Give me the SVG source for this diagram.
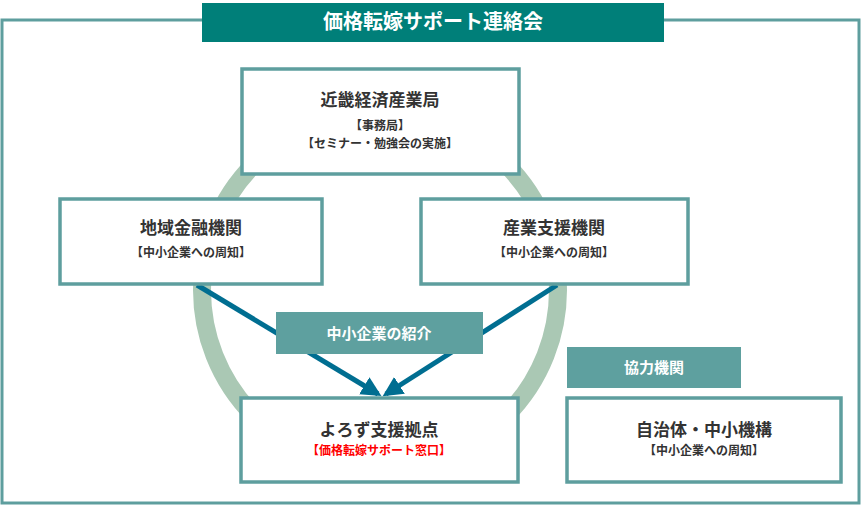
<svg xmlns="http://www.w3.org/2000/svg" width="862" height="505" viewBox="0 0 862 505">
<style>
text{font-family:"Noto Sans CJK JP","Noto Sans CJK SC",sans-serif;text-anchor:middle;font-weight:bold}
.box{fill:#fff;stroke:#5e9e9e;stroke-width:3.5}
.lab{fill:#5ea09f}
.t{font-size:17px;fill:#333}
.s{font-size:12px;fill:#333}
.w{font-size:15px;fill:#fff}
</style>
<defs><marker id="ah" viewBox="0 0 10 10" refX="8" refY="5" markerWidth="4" markerHeight="4" orient="auto"><path d="M0,0L10,5L0,10z" fill="#006e91"/></marker></defs>
<rect x="2" y="20" width="857" height="483" fill="#fff" stroke="#5e9e9e" stroke-width="3"/>
<g id="title"><rect x="202" y="3" width="462" height="39" fill="#007f79"/><text x="433" y="29" font-size="20" fill="#fff">価格転嫁サポート連絡会</text></g>
<circle cx="380" cy="290" r="178" fill="none" stroke="#aac8b4" stroke-width="18"/>
<g id="connectors" stroke="#006e91" stroke-width="5" marker-end="url(#ah)">
<line x1="197" y1="285" x2="378" y2="394"/>
<line x1="557" y1="285" x2="386" y2="394"/>
</g>
<g id="n1"><rect class="box" x="242" y="69" width="277" height="105"/><text class="t" x="380" y="106">近畿経済産業局</text><text class="s" x="380" y="130">【事務局】</text><text class="s" x="380" y="148">【セミナー・勉強会の実施】</text></g>
<g id="n2"><rect class="box" x="60" y="199" width="262" height="85"/><text class="t" x="191" y="234">地域金融機関</text><text class="s" x="191" y="257">【中小企業への周知】</text></g>
<g id="n3"><rect class="box" x="421" y="199" width="267" height="85"/><text class="t" x="554" y="234">産業支援機関</text><text class="s" x="554" y="257">【中小企業への周知】</text></g>
<g id="n4"><rect class="lab" x="276" y="312" width="207" height="42"/><text class="w" x="379" y="339">中小企業の紹介</text></g>
<g id="n5"><rect class="lab" x="567" y="347" width="174" height="41"/><text class="w" x="654" y="373">協力機関</text></g>
<g id="n6"><rect class="box" x="241" y="398" width="277" height="84"/><text class="t" x="379" y="436">よろず支援拠点</text><text class="s" x="379" y="455" fill="#f00" style="fill:#f00">【価格転嫁サポート窓口】</text></g>
<g id="n7"><rect class="box" x="567" y="398" width="274" height="84"/><text class="t" x="704" y="436">自治体・中小機構</text><text class="s" x="704" y="455">【中小企業への周知】</text></g>
</svg>
